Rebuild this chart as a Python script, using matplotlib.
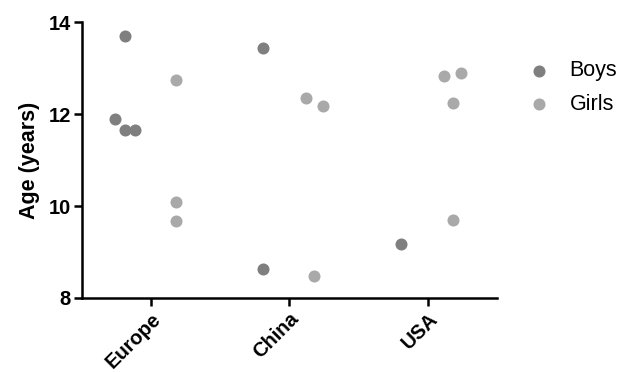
import numpy as np
import matplotlib
matplotlib.use("Agg")
import matplotlib.pyplot as plt

plt.rcParams['font.family'] = ['Liberation Sans', 'DejaVu Sans']

regions = ["Europe", "China", "USA"]

# ages, with the small horizontal jitter of each point
boys_region = [0, 0, 0, 0, 1, 1, 2]
boys_age = [13.70, 11.89, 11.66, 11.66, 13.44, 8.63, 9.18]
boys_jitter = [0.00, -0.07, 0.00, 0.07, 0.00, 0.00, 0.00]

girls_region = [0, 0, 0, 1, 1, 1, 2, 2, 2, 2]
girls_age = [12.74, 10.09, 9.67, 12.35, 12.18, 8.47, 12.83, 12.89, 12.24, 9.69]
girls_jitter = [0.00, 0.00, 0.00, -0.06, 0.06, 0.00, -0.06, 0.06, 0.00, 0.00]

boys_col = "#7f7f7f"
girls_col = "#a9a9a9"

fig = plt.figure(figsize=(6.33, 3.72), dpi=100)
ax = fig.add_axes([0.1295, 0.199, 0.6555, 0.741])

bx = np.array(boys_region) - 0.19 + np.array(boys_jitter)
gx = np.array(girls_region) + 0.18 + np.array(girls_jitter)
ax.scatter(bx, boys_age, s=75, color=boys_col, label="Boys", linewidths=0, zorder=3)
ax.scatter(gx, girls_age, s=75, color=girls_col, label="Girls", linewidths=0, zorder=3)

ax.set_xlim(-0.5, 2.5)
ax.set_ylim(8, 14)
ax.set_yticks([8, 10, 12, 14])
ax.set_xticks(range(len(regions)))
ax.set_xticklabels(regions, rotation=45, ha="right", rotation_mode="anchor")

for s in ["top", "right"]:
    ax.spines[s].set_visible(False)
for s in ["left", "bottom"]:
    ax.spines[s].set_linewidth(1.8)

ax.tick_params(axis="y", length=6, width=1.8, labelsize=14.5, pad=2)
ax.tick_params(axis="x", length=6, width=1.8, labelsize=14.5, pad=2)
for lab in ax.get_xticklabels() + ax.get_yticklabels():
    lab.set_fontweight("bold")

ax.set_ylabel("Age (years)", fontsize=15.5, fontweight="bold", labelpad=6)

ax.legend(loc="upper left", bbox_to_anchor=(0.835, 0.838), bbox_transform=fig.transFigure,
          frameon=False, fontsize=15.5, handlelength=1.0, handletextpad=0.9,
          labelspacing=0.58, borderaxespad=0, borderpad=0)

fig.savefig("out.png", dpi=100)
